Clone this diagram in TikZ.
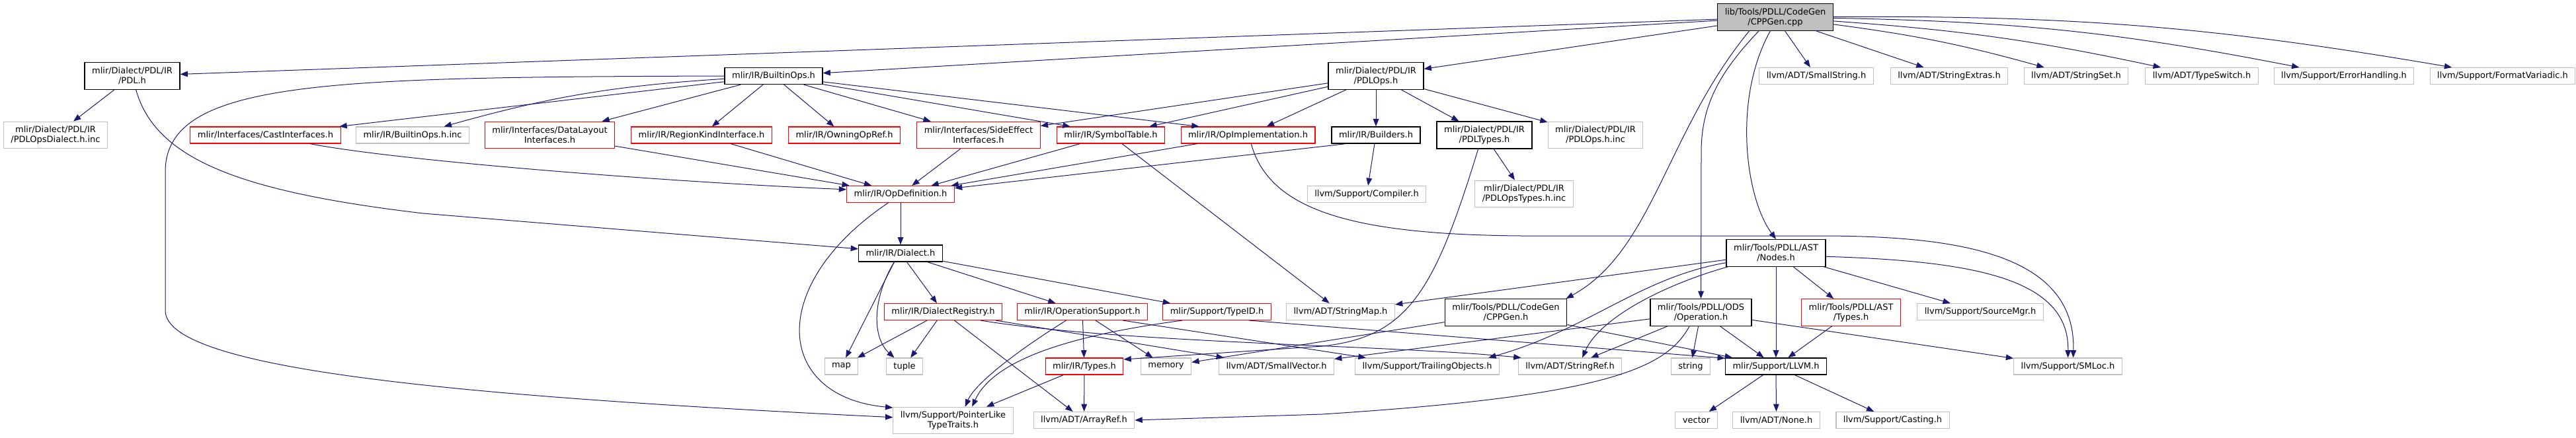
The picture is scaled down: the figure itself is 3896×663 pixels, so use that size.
\documentclass[tikz,border=0pt]{standalone}
\usepackage{fontspec}
\setmainfont{DejaVu Sans}
\usetikzlibrary{arrows.meta}
\definecolor{edgeblue}{HTML}{191970}
\definecolor{extgrey}{HTML}{BFBFBF}
\definecolor{rootgrey}{HTML}{BFBFBF}
\definecolor{cutred}{HTML}{FF0000}

\begin{document}
\begin{tikzpicture}[
  x=0.75pt, y=-0.75pt,
  every node/.style={inner sep=1pt},
  file/.style={rectangle, draw, line width=0.8pt, fill=white, align=center,
    font=\fontsize{9.75pt}{11.25pt}\selectfont,
    inner xsep=8.25pt, inner ysep=2pt, minimum height=18.75pt},
  twoline/.style={minimum height=30.5pt},
  docfile/.style={file, draw=black, line width=1pt},
  cutfile/.style={file, draw=cutred},
  extfile/.style={file, draw=extgrey},
  rootfile/.style={file, draw=black, line width=1pt, fill=rootgrey},
  dep/.style={draw=edgeblue, line width=0.75pt, -{Triangle[length=8.5pt, width=6.5pt]}}]

  \useasboundingbox (0,0) rectangle (3896,663);

  % --- the file itself ---
  \node[rootfile, twoline] (root) at (2685,26) {lib/Tools/PDLL/CodeGen\\/CPPGen.cpp};

  % --- first level of includes ---
  \node[docfile, twoline] (pdl) at (200,115) {mlir/Dialect/PDL/IR\\/PDL.h};
  \node[docfile] (builtinops) at (1170,115) {mlir/IR/BuiltinOps.h};
  \node[docfile, twoline] (pdlops) at (2081,115) {mlir/Dialect/PDL/IR\\/PDLOps.h};
  \node[extfile] (smallstring) at (2747,115) {llvm/ADT/SmallString.h};
  \node[extfile] (stringextras) at (2948,115) {llvm/ADT/StringExtras.h};
  \node[extfile] (stringset) at (3140,115) {llvm/ADT/StringSet.h};
  \node[extfile] (typeswitch) at (3330,115) {llvm/ADT/TypeSwitch.h};
  \node[extfile] (errorhandling) at (3545,115) {llvm/Support/ErrorHandling.h};
  \node[extfile] (formatvariadic) at (3785,115) {llvm/Support/FormatVariadic.h};

  % --- second row ---
  \node[extfile, twoline] (pdlopsdialect) at (84,204.5) {mlir/Dialect/PDL/IR\\/PDLOpsDialect.h.inc};
  \node[cutfile] (castif) at (401.5,204.5) {mlir/Interfaces/CastInterfaces.h};
  \node[extfile] (builtinopsinc) at (624,204.5) {mlir/IR/BuiltinOps.h.inc};
  \node[cutfile, twoline] (datalayout) at (831.5,204.5) {mlir/Interfaces/DataLayout\\Interfaces.h};
  \node[cutfile] (regionkind) at (1061,204.5) {mlir/IR/RegionKindInterface.h};
  \node[cutfile] (owningopref) at (1277,204.5) {mlir/IR/OwningOpRef.h};
  \node[cutfile, twoline] (sideeffect) at (1480,204.5) {mlir/Interfaces/SideEffect\\Interfaces.h};
  \node[cutfile] (symboltable) at (1680,204.5) {mlir/IR/SymbolTable.h};
  \node[cutfile] (opimpl) at (1887.5,204.5) {mlir/IR/OpImplementation.h};
  \node[docfile] (builders) at (2081,204.5) {mlir/IR/Builders.h};
  \node[docfile, twoline] (pdltypes) at (2245,204.5) {mlir/Dialect/PDL/IR\\/PDLTypes.h};
  \node[extfile, twoline] (pdlopsinc) at (2413,204.5) {mlir/Dialect/PDL/IR\\/PDLOps.h.inc};

  % --- third row ---
  \node[cutfile] (opdef) at (1362,294) {mlir/IR/OpDefinition.h};
  \node[extfile] (compiler) at (2067,294) {llvm/Support/Compiler.h};
  \node[extfile, twoline] (pdlopstypesinc) at (2305,293.5) {mlir/Dialect/PDL/IR\\/PDLOpsTypes.h.inc};

  % --- fourth row ---
  \node[docfile] (dialect) at (1362,383.5) {mlir/IR/Dialect.h};
  \node[docfile, twoline] (nodes) at (2686,383) {mlir/Tools/PDLL/AST\\/Nodes.h};

  % --- fifth row ---
  \node[cutfile] (dialectreg) at (1426.5,472) {mlir/IR/DialectRegistry.h};
  \node[cutfile] (opsupport) at (1637,472) {mlir/IR/OperationSupport.h};
  \node[cutfile] (typeid) at (1840.5,472) {mlir/Support/TypeID.h};
  \node[extfile] (stringmap) at (2027.5,472) {llvm/ADT/StringMap.h};
  \node[docfile, twoline] (cppgenh) at (2277.5,473) {mlir/Tools/PDLL/CodeGen\\/CPPGen.h};
  \node[docfile, twoline] (odsop) at (2572.5,473) {mlir/Tools/PDLL/ODS\\/Operation.h};
  \node[cutfile, twoline] (asttypes) at (2799.5,473) {mlir/Tools/PDLL/AST\\/Types.h};
  \node[extfile] (sourcemgr) at (2995,472) {llvm/Support/SourceMgr.h};

  % --- sixth row ---
  \node[extfile] (stdmap) at (1272.5,554.5) {map};
  \node[extfile] (stdtuple) at (1368,554.5) {tuple};
  \node[cutfile] (types) at (1640,554.5) {mlir/IR/Types.h};
  \node[extfile] (stdmemory) at (1763.5,554.5) {memory};
  \node[extfile] (smallvector) at (1930.5,554.5) {llvm/ADT/SmallVector.h};
  \node[extfile] (trailing) at (2158.5,554.5) {llvm/Support/TrailingObjects.h};
  \node[extfile] (stringref) at (2374.5,554.5) {llvm/ADT/StringRef.h};
  \node[extfile] (stdstring) at (2557,554.5) {string};
  \node[docfile] (llvmh) at (2686,554.5) {mlir/Support/LLVM.h};
  \node[extfile] (smloc) at (3127.5,554.5) {llvm/Support/SMLoc.h};

  % --- bottom row ---
  \node[extfile, twoline] (pointerlike) at (1441.5,636.5) {llvm/Support/PointerLike\\TypeTraits.h};
  \node[extfile] (arrayref) at (1639.5,636) {llvm/ADT/ArrayRef.h};
  \node[extfile] (stdvector) at (2565.5,636) {vector};
  \node[extfile] (nonehdr) at (2686.5,636) {llvm/ADT/None.h};
  \node[extfile] (casting) at (2862.5,636) {llvm/Support/Casting.h};

  % --- edges out of the file itself ---
  \draw[dep] (root) -- (pdl);
  \draw[dep] (root) -- (builtinops);
  \draw[dep] (root) -- (pdlops);
  \draw[dep] (root) -- (smallstring);
  \draw[dep] (root) -- (stringextras);
  \draw[dep] (root) to[bend left=4] (stringset);
  \draw[dep] (root) to[bend left=4] (typeswitch);
  \draw[dep] (root) to[bend left=5] (errorhandling);
  \draw[dep] (root) to[bend left=5] (formatvariadic);
  \draw[dep] (root.208) .. controls (2520,200) and (2500,380) .. (cppgenh.13);
  \draw[dep] (root.220) .. controls (2600,110) and (2573,160) .. (2573,230) -- (odsop.north);
  \draw[dep] (root.250) .. controls (2620,150) and (2640,300) .. (nodes.north);

  % --- mlir/Dialect/PDL/IR/PDL.h ---
  \draw[dep] (pdl) -- (pdlopsdialect);
  \draw[dep] (pdl.285) .. controls (235,240) and (360,290) .. (640,323) -- (dialect.174);

  % --- mlir/IR/BuiltinOps.h ---
  \draw[dep] (builtinops) -- (castif);
  \draw[dep] (builtinops) to[bend right=6] (builtinopsinc);
  \draw[dep] (builtinops) -- (datalayout);
  \draw[dep] (builtinops) -- (regionkind);
  \draw[dep] (builtinops) -- (owningopref);
  \draw[dep] (builtinops) -- (sideeffect);
  \draw[dep] (builtinops) -- (symboltable.168);
  \draw[dep] (builtinops) -- (opimpl.170);
  \draw[dep] (builtinops.west) .. controls (500,117) and (250,120) .. (250,260)
    -- (250,470) .. controls (250,560) and (700,600) .. (pointerlike.177);

  % --- mlir/Dialect/PDL/IR/PDLOps.h ---
  \draw[dep] (pdlops) -- (sideeffect);
  \draw[dep] (pdlops) -- (symboltable);
  \draw[dep] (pdlops) -- (opimpl);
  \draw[dep] (pdlops) -- (builders);
  \draw[dep] (pdlops) -- (pdltypes);
  \draw[dep] (pdlops) -- (pdlopsinc);

  % --- second row ---
  \draw[dep] (castif.349) .. controls (600,243) and (1000,275) .. (opdef.175);
  \draw[dep] (datalayout) -- (opdef);
  \draw[dep] (regionkind) -- (opdef);
  \draw[dep] (sideeffect) -- (opdef);
  \draw[dep] (symboltable) -- (opdef);
  \draw[dep] (symboltable) -- (stringmap);
  \draw[dep] (opimpl) -- (opdef);
  \draw[dep] (opimpl.290) .. controls (1920,320) and (2050,355) .. (2300,357)
    -- (2750,357) .. controls (2950,357) and (3140,380) .. ([xshift=6pt]smloc.north);
  \draw[dep] (builders.196) -- (opdef);
  \draw[dep] (builders) -- (compiler);
  \draw[dep] (pdltypes) -- (pdlopstypesinc);
  \draw[dep] (pdltypes.246) .. controls (2170,440) and (2130,510) .. (2000,524) -- (types.10);

  % --- mlir/IR/OpDefinition.h and mlir/IR/Dialect.h ---
  \draw[dep] (opdef) -- (dialect);
  \draw[dep] (opdef.215) .. controls (1160,430) and (1170,600) .. (pointerlike.168);
  \draw[dep] (dialect.234) -- (stdmap);
  \draw[dep] (dialect.234) .. controls (1320,450) and (1318,510) .. (stdtuple.140);
  \draw[dep] (dialect) -- (dialectreg);
  \draw[dep] (dialect) -- (opsupport);
  \draw[dep] (dialect) -- (typeid);

  % --- fifth row, mlir side ---
  \draw[dep] (dialectreg) -- (stdmap);
  \draw[dep] (dialectreg) -- (stdtuple);
  \draw[dep] (dialectreg) -- (arrayref);
  \draw[dep] (dialectreg) -- (smallvector);
  \draw[dep] (dialectreg.347) .. controls (1700,520) and (2100,522) .. (stringref.170);
  \draw[dep] (opsupport) -- (types);
  \draw[dep] (opsupport) -- (stdmemory);
  \draw[dep] (opsupport.208) .. controls (1540,530) and (1475,580) .. (pointerlike.49);
  \draw[dep] (opsupport.348) -- (trailing.172);
  \draw[dep] (typeid.194) .. controls (1600,510) and (1500,550) .. (pointerlike.36);
  \draw[dep] (typeid.345) -- (llvmh.171);
  \draw[dep] (types) -- (pointerlike);
  \draw[dep] (types) -- (arrayref);

  % --- fifth row, PDLL side ---
  \draw[dep] (cppgenh) -- (stdmemory);
  \draw[dep] (cppgenh) -- (llvmh);
  \draw[dep] (odsop) -- (smallvector);
  \draw[dep] (odsop) -- (stringref);
  \draw[dep] (odsop.230) .. controls (2520,560) and (2420,600) .. (2000,627) -- (arrayref.east);
  \draw[dep] (odsop) -- (stdstring);
  \draw[dep] (odsop) -- (llvmh);
  \draw[dep] (odsop) -- (smloc);
  \draw[dep] (asttypes) -- (llvmh);

  % --- mlir/Tools/PDLL/AST/Nodes.h ---
  \draw[dep] (nodes) -- (stringmap);
  \draw[dep] (nodes.191) .. controls (2480,420) and (2400,500) .. (trailing.8);
  \draw[dep] (nodes.196) .. controls (2520,430) and (2420,480) .. (stringref.35);
  \draw[dep] (nodes) -- (llvmh);
  \draw[dep] (nodes) -- (asttypes);
  \draw[dep] (nodes) -- (sourcemgr);
  \draw[dep] (nodes.356) .. controls (2980,395) and (3130,420) .. (smloc.north);

  % --- mlir/Support/LLVM.h ---
  \draw[dep] (llvmh) -- (stdvector);
  \draw[dep] (llvmh) -- (nonehdr);
  \draw[dep] (llvmh) -- (casting);

\end{tikzpicture}
\end{document}
